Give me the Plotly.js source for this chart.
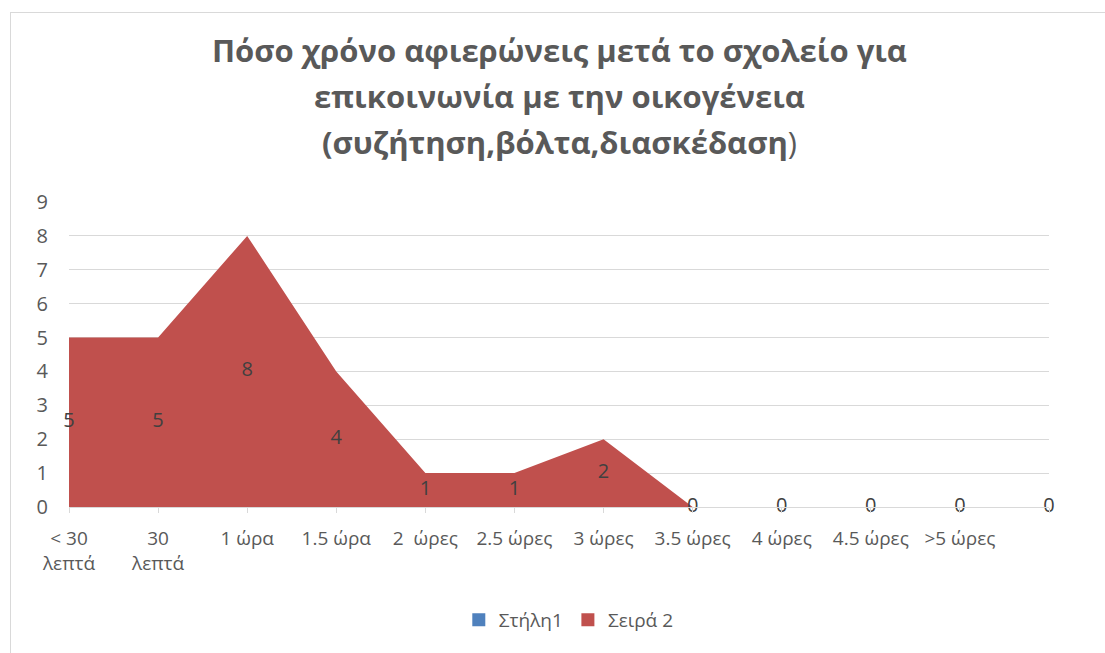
<!DOCTYPE html>
<html>
<head>
<meta charset="utf-8">
<script src="https://cdn.plot.ly/plotly-3.0.1.min.js"></script>
<style>
  html, body { margin:0; padding:0; background:#fff; overflow:hidden; }
  #frame { position:absolute; left:10px; top:12px; width:1200px; height:800px; border:1.5px solid #d9d9d9; box-sizing:border-box; }
  #chart { position:absolute; left:0; top:0; width:1105px; height:653px; }
</style>
</head>
<body>
<div id="frame"></div>
<div id="chart"></div>
<script>
const categories = ["< 30<br>λεπτά", "30<br>λεπτά", "1 ώρα", "1.5 ώρα", "2  ώρες", "2.5 ώρες", "3 ώρες", "3.5 ώρες", "4 ώρες", "4.5 ώρες", ">5 ώρες", ""];
const seriesName = "Σειρά 2";
const emptySeriesName = "Στήλη1";
const values = [5, 5, 8, 4, 1, 1, 2, 0, 0, 0, 0, 0];
const titleLines = [
  "<b>Πόσο χρόνο αφιερώνεις μετά το σχολείο για</b>",
  "<b>επικοινωνία με την οικογένεια</b>",
  "<b>(συζήτηση,βόλτα,διασκέδαση</b>)"
];

const xIdx = categories.map((c, i) => i);
const RED = "#c0504d", BLUE = "#4f81bd";
const FONT = "Open Sans, Noto Sans, sans-serif";
const FS = 19;

const traces = [
  { type: "scatter", mode: "markers", name: emptySeriesName, x: [null], y: [null],
    marker: { color: BLUE, symbol: "square", size: 13 }, hoverinfo: "skip" },
  { type: "scatter", mode: "lines", name: seriesName, x: xIdx, y: values, fill: "tozeroy",
    fillcolor: RED, line: { color: RED, width: 0 }, showlegend: false },
  { type: "scatter", mode: "markers", name: seriesName, x: [null], y: [null],
    marker: { color: RED, symbol: "square", size: 13 }, hoverinfo: "skip" },
  { type: "scatter", mode: "text", x: xIdx, y: values.map(v => v / 2), text: values.map(String),
    textposition: "middle center", textfont: { family: FONT, size: 20, color: "#404040" },
    showlegend: false, hoverinfo: "skip", cliponaxis: false }
];

const plotTop = 202, plotBottom = 507, plotH = plotBottom - plotTop;
const titleY = [50, 96, 142];

const layout = {
  width: 1105, height: 653,
  paper_bgcolor: "rgba(0,0,0,0)", plot_bgcolor: "rgba(0,0,0,0)",
  margin: { l: 69, r: 56, t: plotTop, b: 653 - plotBottom, pad: 0 },
  font: { family: FONT, color: "#595959", size: FS },
  showlegend: true,
  legend: { orientation: "h", x: 0.51, xanchor: "center", y: (plotBottom - 620) / plotH, yanchor: "middle",
    font: { family: FONT, size: FS, color: "#595959" }, traceorder: "normal", itemwidth: 30 },
  xaxis: {
    range: [0, 11], tickmode: "array", tickvals: xIdx, ticktext: categories,
    showgrid: false, zeroline: false, showline: true, linecolor: "#d9d9d9", linewidth: 1,
    ticks: "outside", ticklen: 5, tickcolor: "#d9d9d9", ticklabelstandoff: 9,
    tickfont: { family: FONT, size: FS, color: "#595959" }, fixedrange: true
  },
  yaxis: {
    range: [0, 9], dtick: 1, tick0: 0, showgrid: true, gridcolor: "#d9d9d9", gridwidth: 1,
    zeroline: false, showline: false, ticks: "", ticklabelstandoff: 20,
    tickfont: { family: FONT, size: 20, color: "#595959" }, fixedrange: true
  },
  annotations: titleLines.map((t, i) => ({
    text: t, xref: "paper", yref: "paper", x: 0.5, xanchor: "center",
    y: (plotBottom - titleY[i]) / plotH, yanchor: "middle", showarrow: false,
    font: { family: FONT, size: 31, color: "#595959" }
  }))
};

Plotly.newPlot("chart", traces, layout, { displayModeBar: false, staticPlot: true });
</script>
</body>
</html>
